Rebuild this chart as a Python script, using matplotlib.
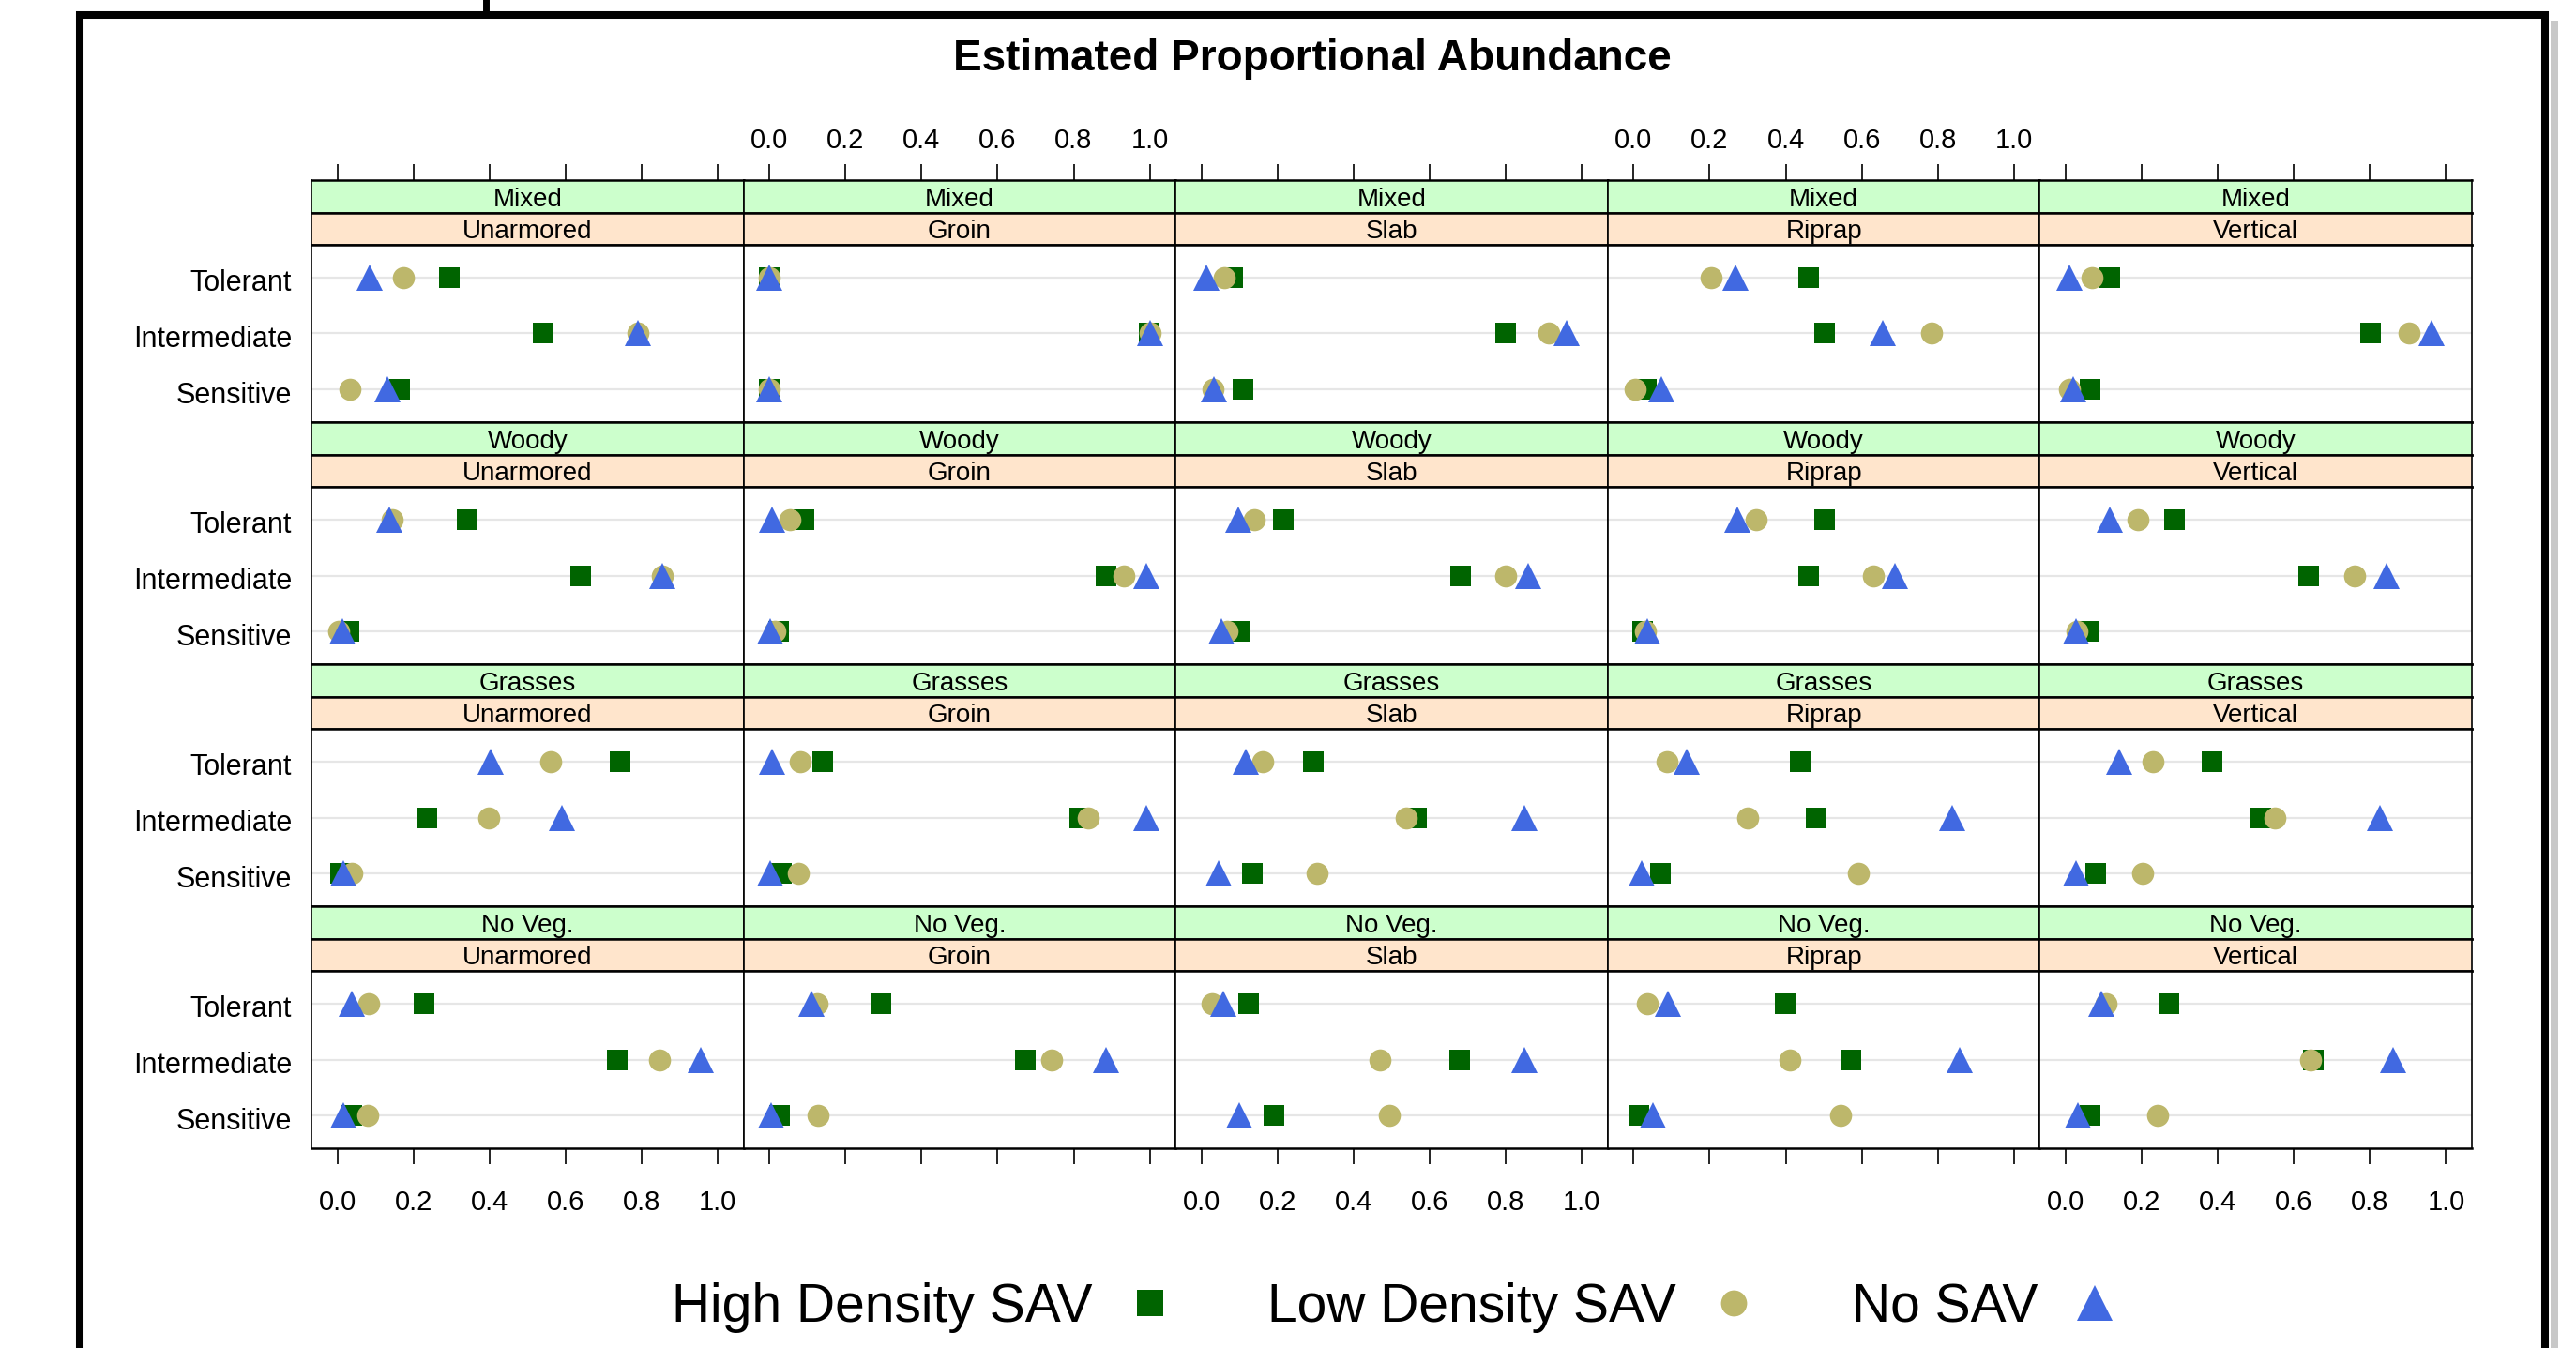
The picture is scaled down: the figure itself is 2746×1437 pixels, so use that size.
import matplotlib
matplotlib.use("Agg")
import matplotlib.pyplot as plt
import matplotlib.transforms as mtransforms
from matplotlib.lines import Line2D
from matplotlib.patches import Rectangle

plt.rcParams['font.family'] = ['Liberation Sans', 'DejaVu Sans']

# ---- data -----------------------------------------------------------------
veg_levels = ["Mixed", "Woody", "Grasses", "No Veg."]
armor_levels = ["Unarmored", "Groin", "Slab", "Riprap", "Vertical"]
classes = ["Tolerant", "Intermediate", "Sensitive"]
class_pos = [3, 2, 1]
tick_vals = [0.0, 0.2, 0.4, 0.6, 0.8, 1.0]
tick_labels = ["0.0", "0.2", "0.4", "0.6", "0.8", "1.0"]
series_names = ["High Density SAV", "Low Density SAV", "No SAV"]

# each row: one armor type, values for [Tolerant, Intermediate, Sensitive]
high_mixed = [[0.295, 0.540, 0.165], [0.000, 0.998, 0.000], [0.082, 0.800, 0.109],
              [0.460, 0.501, 0.033], [0.117, 0.802, 0.065]]
low_mixed = [[0.174, 0.791, 0.033], [0.000, 1.000, 0.000], [0.060, 0.913, 0.030],
             [0.203, 0.784, 0.005], [0.070, 0.902, 0.011]]
no_mixed = [[0.086, 0.791, 0.132], [0.000, 1.000, 0.000], [0.012, 0.961, 0.032],
            [0.268, 0.656, 0.074], [0.011, 0.961, 0.019]]

high_woody = [[0.341, 0.639, 0.031], [0.091, 0.885, 0.025], [0.216, 0.682, 0.100],
              [0.501, 0.460, 0.024], [0.286, 0.640, 0.061]]
low_woody = [[0.145, 0.855, 0.003], [0.053, 0.933, 0.014], [0.138, 0.800, 0.067],
             [0.322, 0.630, 0.030], [0.191, 0.759, 0.030]]
no_woody = [[0.137, 0.855, 0.013], [0.007, 0.991, 0.002], [0.096, 0.859, 0.052],
            [0.274, 0.687, 0.035], [0.117, 0.844, 0.028]]

high_grasses = [[0.744, 0.236, 0.009], [0.140, 0.816, 0.031], [0.295, 0.565, 0.133],
                [0.438, 0.480, 0.070], [0.384, 0.514, 0.078]]
low_grasses = [[0.562, 0.397, 0.037], [0.080, 0.838, 0.075], [0.160, 0.537, 0.304],
               [0.089, 0.301, 0.592], [0.230, 0.549, 0.202]]
no_grasses = [[0.403, 0.590, 0.016], [0.007, 0.991, 0.002], [0.116, 0.848, 0.045],
              [0.139, 0.837, 0.022], [0.141, 0.826, 0.026]]

high_noveg = [[0.227, 0.736, 0.037], [0.293, 0.672, 0.027], [0.123, 0.678, 0.190],
              [0.399, 0.571, 0.013], [0.271, 0.651, 0.065]]
low_noveg = [[0.082, 0.846, 0.080], [0.125, 0.743, 0.127], [0.027, 0.469, 0.493],
             [0.037, 0.412, 0.544], [0.105, 0.644, 0.243]]
no_noveg = [[0.037, 0.956, 0.016], [0.111, 0.885, 0.004], [0.058, 0.848, 0.100],
            [0.091, 0.857, 0.050], [0.095, 0.861, 0.033]]

high = [high_mixed, high_woody, high_grasses, high_noveg]
low = [low_mixed, low_woody, low_grasses, low_noveg]
nosav = [no_mixed, no_woody, no_grasses, no_noveg]

# ---- styling --------------------------------------------------------------
C_HIGH, C_LOW, C_NO = "#006400", "#BDB76B", "#4169E1"
GREEN_STRIP, PEACH_STRIP = "#CCFFCC", "#FFE5CC"
XLIM = (-0.068, 1.068)
YLIM = (0.42, 3.58)

W, H = 2746, 1437
fig = plt.figure(figsize=(W / 100, H / 100), dpi=100)


def rect(x, y, w, h):
    # pixel box measured from top-left -> figure fraction
    return [x / W, 1 - (y + h) / H, w / W, h / H]


PX0, COLW = 332, 460.6
PY0, ROWH, STRIPH = 192, 258, 34.5

# nudge the row labels a few pixels down
label_shift = mtransforms.ScaledTranslation(0, -3 / 100, fig.dpi_scale_trans)


def style_spines(ax, lw_h=1.8, lw_v=1.2):
    for side in ("top", "bottom"):
        ax.spines[side].set_linewidth(lw_h)
    for side in ("left", "right"):
        ax.spines[side].set_linewidth(lw_v)


for r, veg in enumerate(veg_levels):
    top = PY0 + r * ROWH
    for c, armor in enumerate(armor_levels):
        x = PX0 + c * COLW

        # strips: vegetation (green) over armor (peach)
        for k, (label, col) in enumerate([(veg, GREEN_STRIP), (armor, PEACH_STRIP)]):
            sax = fig.add_axes(rect(x, top + k * STRIPH, COLW, STRIPH))
            sax.set_facecolor(col)
            sax.set_xlim(XLIM)
            sax.set_ylim(0, 1)
            sax.set_yticks([])
            sax.text(0.5, 0.19, label, transform=sax.transAxes, ha="center",
                     va="baseline", fontsize=20)
            style_spines(sax)
            if r == 0 and k == 0:
                sax.xaxis.set_ticks_position("top")
                sax.set_xticks(tick_vals)
                sax.set_xticklabels(tick_labels)
                sax.tick_params(axis="x", length=12, width=1.2, labelsize=21,
                                pad=8, labeltop=(c % 2 == 1))
            else:
                sax.set_xticks([])

        # panel body
        ax = fig.add_axes(rect(x, top + 2 * STRIPH, COLW, ROWH - 2 * STRIPH))
        ax.set_xlim(XLIM)
        ax.set_ylim(YLIM)
        for yp in class_pos:
            ax.axhline(yp, color="#e6e6e6", lw=1.6, zorder=1)
        ax.plot(high[r][c], class_pos, "s", ms=16, color=C_HIGH, mew=0,
                linestyle="none", zorder=3)
        ax.plot(low[r][c], class_pos, "o", ms=17, color=C_LOW, mew=0,
                linestyle="none", zorder=4)
        ax.plot(nosav[r][c], class_pos, "^", ms=19.5, color=C_NO, mew=0,
                linestyle="none", zorder=5)
        style_spines(ax)

        ax.set_yticks(class_pos)
        if c == 0:
            ax.set_yticklabels(classes)
            ax.tick_params(axis="y", length=0, labelsize=22, pad=15)
            for lab in ax.get_yticklabels():
                lab.set_transform(lab.get_transform() + label_shift)
        else:
            ax.set_yticklabels([])
            ax.tick_params(axis="y", length=0)

        if r == len(veg_levels) - 1:
            ax.set_xticks(tick_vals)
            ax.set_xticklabels(tick_labels)
            ax.tick_params(axis="x", length=12, width=1.2, labelsize=21,
                           pad=20, labelbottom=(c % 2 == 0))
        else:
            ax.set_xticks([])

# title
fig.text(1399 / W, 1 - 63 / H, "Estimated Proportional Abundance",
         ha="center", va="center", fontsize=33, fontweight="bold")

# legend (text first, then key)
handles = [
    Line2D([], [], marker="s", ms=19.5, color=C_HIGH, mew=0, linestyle="none"),
    Line2D([], [], marker="o", ms=20, color=C_LOW, mew=0, linestyle="none"),
    Line2D([], [], marker="^", ms=27, color=C_NO, mew=0, linestyle="none"),
]
fig.legend(handles, series_names, ncol=3, markerfirst=False, frameon=False,
           loc="center", bbox_to_anchor=(1486 / W, 1 - 1394 / H),
           fontsize=41, handlelength=0.8, handletextpad=0.68,
           columnspacing=1.8)

# outer frame with a soft shadow on the right, plus the clipped mark above it
fig.add_artist(Rectangle((2719 / W, -0.05), 8 / W, 1.05 - 22 / H,
                         transform=fig.transFigure, color="#c8c8c8", lw=0))
fig.add_artist(Rectangle((85 / W, -0.05), (2713 - 85) / W, 1.05 - 16.5 / H,
                         transform=fig.transFigure, fill=False, ec="black",
                         lw=5.8))
fig.add_artist(Line2D([518 / W, 518 / W], [1.0, 1 - 14 / H],
                      transform=fig.transFigure, color="black", lw=5))

fig.savefig("out.png", dpi=100)
